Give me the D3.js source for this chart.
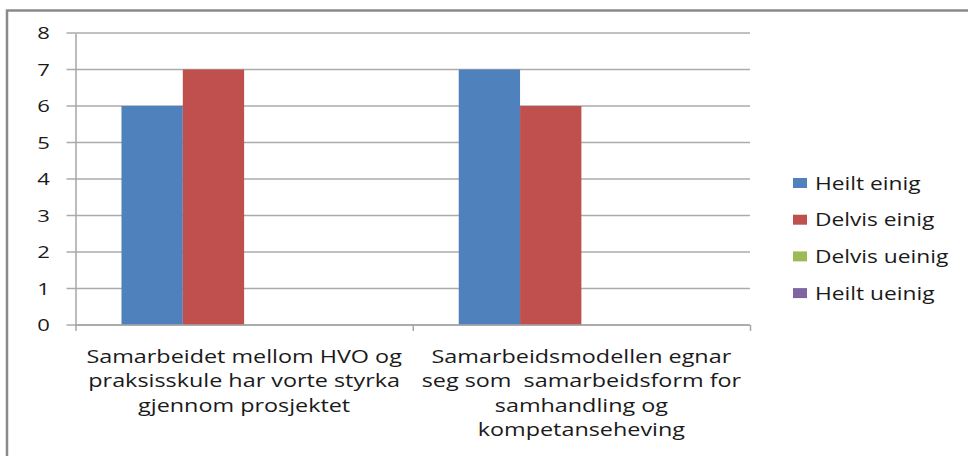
<!DOCTYPE html>
<html>
<head>
<meta charset="utf-8">
<style>
     body {
          margin: 0;
          background: #fff;
          font-family: "Open Sans", sans-serif;
     }
     .grid line {
          stroke: #ababab;
          stroke-width: 1.5px;
     }
     .axis path, .axis line {
          stroke: #a6a6a6;
          stroke-width: 1.5px;
     }
     .label {
          fill: #1a1a1a;
     }
</style>
</head>
<body>
<script src="https://d3js.org/d3.v7.min.js"></script>
<script>

     var categories = [
          ["Samarbeidet mellom HVO og", "praksisskule har vorte styrka", "gjennom prosjektet"],
          ["Samarbeidsmodellen egnar", "seg som  samarbeidsform for", "samhandling og", "kompetanseheving"]
     ];

     var seriesNames = ["Heilt einig", "Delvis einig", "Delvis ueinig", "Heilt ueinig"];
     var seriesColors = ["#4f81bd", "#c0504d", "#9bbb59", "#8064a2"];

     var heiltEinig = [6, 7];
     var delvisEinig = [7, 6];
     var delvisUeinig = [0, 0];
     var heiltUeinig = [0, 0];

     var yTicks = [0, 1, 2, 3, 4, 5, 6, 7, 8];

     var series = [heiltEinig, delvisEinig, delvisUeinig, heiltUeinig];

     var W = 968, H = 456;
     var plot = {left: 75.5, right: 750, top: 33, bottom: 325};

     var svg = d3.select("body").append("svg")
          .attr("width", W)
          .attr("height", H);

     // frame round the whole chart, runs off the right and bottom
     svg.append("rect")
          .attr("x", 7).attr("y", 10.5)
          .attr("width", W + 20).attr("height", H + 20)
          .attr("fill", "none")
          .attr("stroke", "#8a8a8a")
          .attr("stroke-width", 2.5);

     var x0 = d3.scaleBand()
          .domain(d3.range(categories.length))
          .range([plot.left, plot.right])
          .padding(0);

     var x1 = d3.scaleBand()
          .domain(d3.range(seriesNames.length))
          .range([0, x0.bandwidth()])
          .paddingInner(0)
          .paddingOuter(0.75);

     var y = d3.scaleLinear()
          .domain([0, 8])
          .range([plot.bottom, plot.top]);

     // gridlines with ticks sticking out on the left
     svg.append("g")
          .attr("class", "grid")
          .selectAll("line").data(yTicks)
       .enter().append("line")
          .attr("x1", plot.left - 9)
          .attr("x2", plot.right)
          .attr("y1", function(d) { return y(d); })
          .attr("y2", function(d) { return y(d); });

     var groups = svg.append("g").selectAll("g")
          .data(categories)
       .enter().append("g")
          .attr("transform", function(d, i) { return "translate(" + x0(i) + ",0)"; });

     groups.selectAll("rect")
          .data(function(d, i) { return series.map(function(s, k) { return {k: k, v: s[i]}; }); })
       .enter().append("rect")
          .filter(function(d) { return d.v > 0; })
          .attr("x", function(d) { return x1(d.k); })
          .attr("y", function(d) { return y(d.v); })
          .attr("width", x1.bandwidth())
          .attr("height", function(d) { return y(0) - y(d.v); })
          .attr("fill", function(d) { return seriesColors[d.k]; });

     // y axis line
     svg.append("g")
          .attr("class", "axis")
          .attr("transform", "translate(" + plot.left + ",0)")
          .call(d3.axisLeft(y).tickValues([]).tickSizeOuter(0));

     // x axis with ticks at category boundaries
     var xAxis = d3.axisBottom(d3.scaleLinear().domain([0, categories.length]).range([plot.left, plot.right]))
          .tickValues(d3.range(categories.length + 1))
          .tickSize(6)
          .tickFormat("");
     svg.append("g")
          .attr("class", "axis")
          .attr("transform", "translate(0," + plot.bottom + ")")
          .call(xAxis)
          .select(".domain").remove();
     svg.append("line")
          .attr("x1", plot.left).attr("x2", plot.right)
          .attr("y1", plot.bottom).attr("y2", plot.bottom)
          .attr("stroke", "#a6a6a6").attr("stroke-width", 1.5);

     // y tick labels (the picture is stretched sideways)
     svg.append("g").selectAll("text")
          .data(yTicks)
       .enter().append("text")
          .attr("class", "label")
          .attr("text-anchor", "end")
          .attr("font-size", 17)
          .attr("transform", function(d) { return "translate(50," + (y(d) + 6) + ") scale(1.3,1)"; })
          .text(function(d) { return d; });

     // category labels
     groups.append("text")
          .attr("class", "label")
          .attr("text-anchor", "middle")
          .attr("font-size", 19)
          .attr("transform", "translate(" + (x0.bandwidth() / 2) + ",363) scale(1.23,1)")
          .selectAll("tspan")
          .data(function(d) { return d; })
       .enter().append("tspan")
          .attr("x", 0)
          .attr("y", function(d, i) { return i * 24.5; })
          .attr("xml:space", "preserve")
          .text(function(d) { return d; });

     // legend
     var legend = svg.append("g")
          .attr("transform", "translate(793,178)")
          .selectAll("g").data(seriesNames)
       .enter().append("g")
          .attr("transform", function(d, i) { return "translate(0," + (i * 36.7) + ")"; });

     legend.append("rect")
          .attr("width", 14).attr("height", 10)
          .attr("fill", function(d, i) { return seriesColors[i]; });

     legend.append("text")
          .attr("class", "label")
          .attr("font-size", 17.5)
          .attr("transform", "translate(22,11.5) scale(1.3,1)")
          .text(function(d) { return d; });

</script>
</body>
</html>
